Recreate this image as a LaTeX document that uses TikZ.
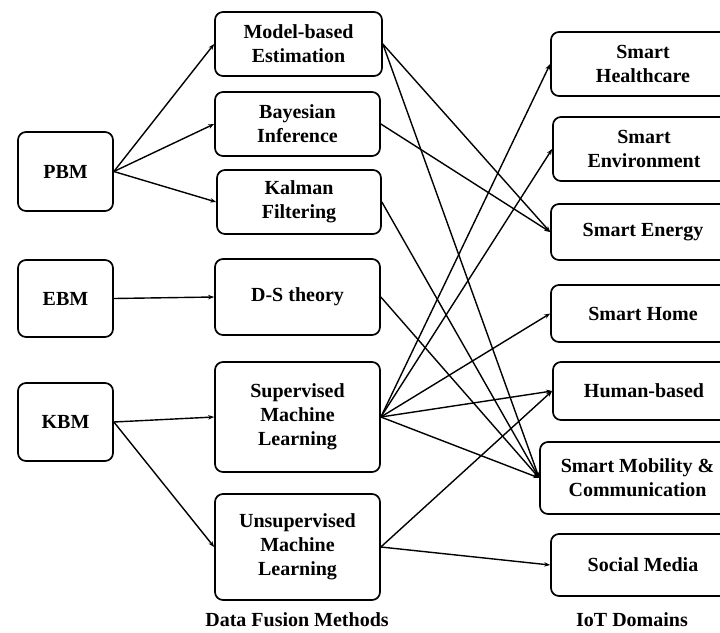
\documentclass[tikz,border=0pt]{standalone}
\usepackage{fontspec}
\setmainfont{Liberation Serif}[BoldFont={Liberation Serif Bold}]
\usetikzlibrary{arrows.meta}
\begin{document}
\begin{tikzpicture}[x=1pt,y=-1pt,
  box/.style={draw, line width=1.7pt, rounded corners=8pt, align=center,
    inner sep=0pt, font=\fontsize{20}{24}\selectfont\bfseries},
  link/.style={line width=1.4pt, -{Stealth[length=6pt,width=4.5pt]}},
  caption/.style={font=\fontsize{20}{24}\selectfont\bfseries}]
\useasboundingbox (0,0) rectangle (720,632);
\clip (0,0) rectangle (720,632);
% model families
\node[box, minimum width=95pt, minimum height=79pt] (pbm) at (65.5,171.5) {PBM};
\node[box, minimum width=95pt, minimum height=77pt] (ebm) at (65.5,298.5) {EBM};
\node[box, minimum width=95pt, minimum height=78pt] (kbm) at (65.5,422) {KBM};
% data fusion methods
\node[box, minimum width=167pt, minimum height=64pt] (mbe) at (298.5,44) {Model-based\\Estimation};
\node[box, minimum width=165pt, minimum height=64pt] (bay) at (297.5,124) {Bayesian\\Inference};
\node[box, minimum width=164pt, minimum height=64pt] (kal) at (299,202) {Kalman\\Filtering};
\node[box, minimum width=165pt, minimum height=76pt] (ds) at (297.5,297) {D-S theory};
\node[box, minimum width=165pt, minimum height=110pt] (sml) at (297.5,417) {Supervised\\Machine\\Learning};
\node[box, minimum width=165pt, minimum height=106pt] (uml) at (297.5,547) {Unsupervised\\Machine\\Learning};
% IoT domains
\node[box, minimum width=184pt, minimum height=64pt] (shc) at (643,64) {Smart\\Healthcare};
\node[box, minimum width=182pt, minimum height=64pt] (sen) at (644,149) {Smart\\Environment};
\node[box, minimum width=184pt, minimum height=56pt] (sey) at (643,232) {Smart Energy};
\node[box, minimum width=184pt, minimum height=57pt] (shm) at (643,313.5) {Smart Home};
\node[box, minimum width=182pt, minimum height=58pt] (hum) at (644,391) {Human-based};
\node[box, minimum width=195pt, minimum height=72pt] (smc) at (637.5,478) {Smart Mobility \&\\Communication};
\node[box, minimum width=184pt, minimum height=62pt] (soc) at (643,565) {Social Media};
% column captions
\node[caption] (cap1) at (297,620) {Data Fusion Methods};
\node[caption] (cap2) at (632,620) {IoT Domains};
% families to methods
\draw[link] (pbm.east) -- (mbe.west);
\draw[link] (pbm.east) -- (bay.west);
\draw[link] (pbm.east) -- (kal.west);
\draw[link] (ebm.east) -- (ds.west);
\draw[link] (kbm.east) -- (sml.west);
\draw[link] (kbm.east) -- (uml.west);
% methods to domains
\draw[link] (mbe.east) -- (sey.west);
\draw[link] (mbe.east) -- (smc.west);
\draw[link] (bay.east) -- (sey.west);
\draw[link] (kal.east) -- (smc.west);
\draw[link] (ds.east) -- (smc.west);
\draw[link] (sml.east) -- (shc.west);
\draw[link] (sml.east) -- (sen.west);
\draw[link] (sml.east) -- (shm.west);
\draw[link] (sml.east) -- (hum.west);
\draw[link] (sml.east) -- (smc.west);
\draw[link] (uml.east) -- (hum.west);
\draw[link] (uml.east) -- (soc.west);
\end{tikzpicture}
\end{document}
